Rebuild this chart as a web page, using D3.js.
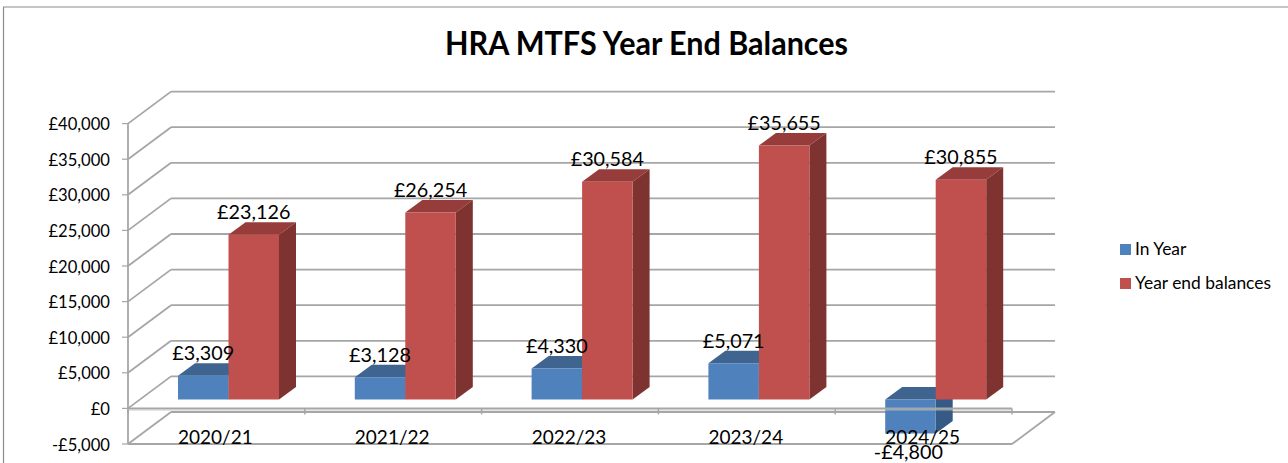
<!DOCTYPE html>
<html><head><meta charset="utf-8">
<script src="https://cdn.jsdelivr.net/npm/d3@7"></script>
<style>html,body{margin:0;background:#fff}svg{display:block}text{font-family:Lato,"Open Sans",sans-serif;fill:#000}</style>
</head><body><svg id="c" width="1288" height="463"></svg>
<script>
const categories = ["2020/21","2021/22","2022/23","2023/24","2024/25"];
const inYear = [3309,3128,4330,5071,-4800];
const yearEnd = [23126,26254,30584,35655,30855];
const yTicks = [-5000,0,5000,10000,15000,20000,25000,30000,35000,40000];
const seriesNames = ["In Year","Year end balances"];
const seriesFront = ["#4f81bd","#c0504d"];
const seriesTop = ["#3f648f","#963c3a"];
const seriesSide = ["#345a85","#7f3331"];
const title = "HRA MTFS Year End Balances";

const svg = d3.select("#c");
const grid = "#a6a6a6";
const wall = {dx:43, dy:-32};      // depth of the 3D floor
const barPlane = {dx:12, dy:-9};   // front face of bars
const barDepth = {dx:17, dy:-12.5};

const y = d3.scaleLinear().domain([-5000,40000]).range([444,123.6]);
const x = d3.scaleBand().domain(categories).range([128,1012]);
const xs = d3.scaleBand().domain(seriesNames).range([38,139]);
const fmt = v => (v<0?"-":"")+"£"+d3.format(",")(Math.abs(v));
const L = (x1,y1,x2,y2,w=1.8,c=grid)=>svg.append("line").attr("x1",x1).attr("y1",y1).attr("x2",x2).attr("y2",y2).attr("stroke",c).attr("stroke-width",w);

// frame
L(3.5,7,3.5,463,1.2,"#8c8c8c"); L(3,7,1288,7,1.2,"#8c8c8c");

// title
svg.append("text").attr("x",646.5).attr("y",55).attr("text-anchor","middle").attr("font-size",33).attr("font-weight",700).attr("textLength",403).attr("lengthAdjust","spacingAndGlyphs").text(title);

// walls and gridlines
const [fx0,fx1] = x.range();
yTicks.forEach(t=>{
  const py = y(t);
  L(fx0-6,py,fx0,py,1.2);
  L(fx0,py,fx0+wall.dx,py+wall.dy);
  L(fx0+wall.dx,py+wall.dy,fx1+wall.dx,py+wall.dy);
  svg.append("text").attr("x",110).attr("y",py+6.5).attr("text-anchor","end").attr("font-size",16.6).text(fmt(t));
});
L(fx0,y(40000),fx0,y(-5000));
L(fx0,y(-5000),fx1,y(-5000));
L(fx1,y(-5000),fx1+wall.dx,y(-5000)+wall.dy);

// bars
const poly = (pts,fill)=>svg.append("polygon").attr("points",pts.map(p=>p.join(",")).join(" ")).attr("fill",fill);
const labels = [];
categories.forEach((cat,i)=>{
  [inYear,yearEnd].forEach((vals,s)=>{
    const v = vals[i];
    const x0 = x(cat)+xs(seriesNames[s])+barPlane.dx, x1 = x0+xs.bandwidth();
    const yv = y(v)+barPlane.dy, yz = y(0)+barPlane.dy;
    const yt = Math.min(yv,yz), yb = Math.max(yv,yz);
    const dx = barDepth.dx, dy = barDepth.dy;
    poly([[x0,yt],[x1,yt],[x1+dx,yt+dy],[x0+dx,yt+dy]],seriesTop[s]);
    poly([[x1,yt],[x1+dx,yt+dy],[x1+dx,yb+dy],[x1,yb]],seriesSide[s]);
    poly([[x0,yt],[x1,yt],[x1,yb],[x0,yb]],seriesFront[s]);
    labels.push({v,yy:v<0?yb+25.5:yt-15.5, cx2:v<0?(x0+x1)/2-2:(x0+x1)/2});
  });
});

// zero axis with ticks
L(fx0,y(0),fx1,y(0));
L(fx0,y(0)+1.5,fx1,y(0)+1.5,1,"#bdbdbd");
categories.concat([null]).forEach(c=>{
  const px = c?x(c):fx1;
  L(px,y(0),px,y(0)+6,1.5);
});

// category labels
categories.forEach(c=>{
  svg.append("text").attr("x",x(c)+x.bandwidth()/2-1).attr("y",444).attr("text-anchor","middle").attr("font-size",19).text(c);
});
// data labels
labels.forEach(d=>{
  svg.append("text").attr("x",d.cx2).attr("y",d.yy).attr("text-anchor","middle").attr("font-size",19.8).text(fmt(d.v));
});

// legend
seriesNames.forEach((n,i)=>{
  const ly = 244+i*34;
  svg.append("rect").attr("x",1120).attr("y",ly).attr("width",11).attr("height",11).attr("fill",seriesFront[i]);
  svg.append("text").attr("x",1135).attr("y",ly+11).attr("font-size",17.4).text(n);
});
</script></body></html>
